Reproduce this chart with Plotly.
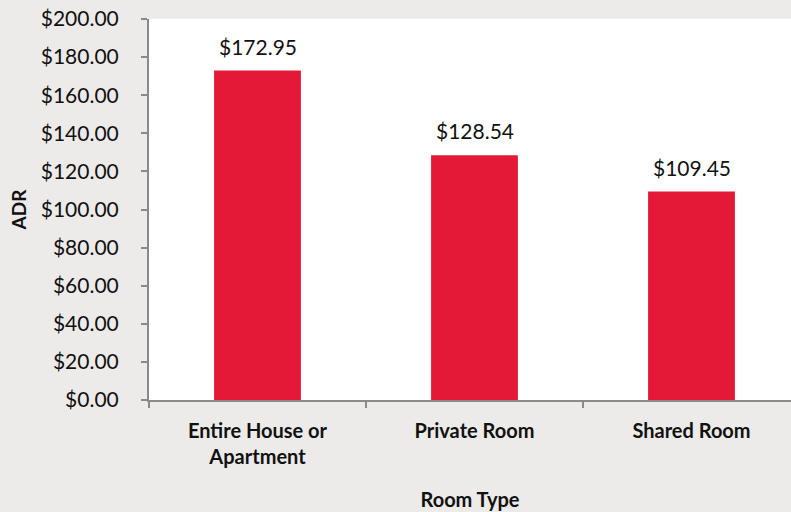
import plotly.graph_objects as go

categories = ["Entire House or<br>Apartment", "Private Room", "Shared Room"]
adr_values = [172.95, 128.54, 109.45]
y_tick_values = [0, 20, 40, 60, 80, 100, 120, 140, 160, 180, 200]
y_tick_labels = ["$%.2f" % v for v in y_tick_values]
value_labels = ["$%.2f" % v for v in adr_values]

FONT = "Lato"
GREY = "#8a8a8a"
TXT = "#111111"

fig = go.Figure()
fig.add_trace(go.Bar(
    x=categories,
    y=adr_values,
    width=0.4,
    marker=dict(color="#E31937", line=dict(width=0)),
))

for cat, val, lab in zip(categories, adr_values, value_labels):
    fig.add_annotation(
        x=cat, y=val, text=lab, showarrow=False,
        yanchor="bottom", yshift=10,
        font=dict(family=FONT, size=21, color=TXT),
    )

fig.update_layout(
    width=791, height=512,
    paper_bgcolor="#EDEBE9",
    plot_bgcolor="#FFFFFF",
    margin=dict(l=149, r=0, t=19, b=112),
    showlegend=False,
    font=dict(family=FONT, color=TXT),
)
fig.update_xaxes(
    type="category",
    range=[-0.5, 2.4585],
    showline=True, linecolor=GREY, linewidth=2,
    ticks="outside", tickson="boundaries", ticklen=6, tickcolor=GREY, tickwidth=2,
    ticklabelstandoff=12,
    tickfont=dict(family=FONT, size=20, color=TXT, weight="bold"),
    title=dict(text="<b>Room Type</b>", font=dict(family=FONT, size=20, color=TXT), standoff=26),
    showgrid=False,
)
fig.update_yaxes(
    range=[0, 200],
    tickvals=y_tick_values, ticktext=y_tick_labels,
    showline=True, linecolor=GREY, linewidth=2,
    ticks="outside", ticklen=6, tickcolor=GREY, tickwidth=2,
    ticklabelstandoff=18,
    tickfont=dict(family=FONT, size=21, color=TXT),
    title=dict(text="<b>ADR</b>", font=dict(family=FONT, size=19, color=TXT), standoff=9),
    showgrid=False, zeroline=False,
)

fig.write_html(
    "out.html",
    config={"displayModeBar": False},
    post_script="document.body.style.margin='0';document.body.style.background='#EDEBE9';",
)
